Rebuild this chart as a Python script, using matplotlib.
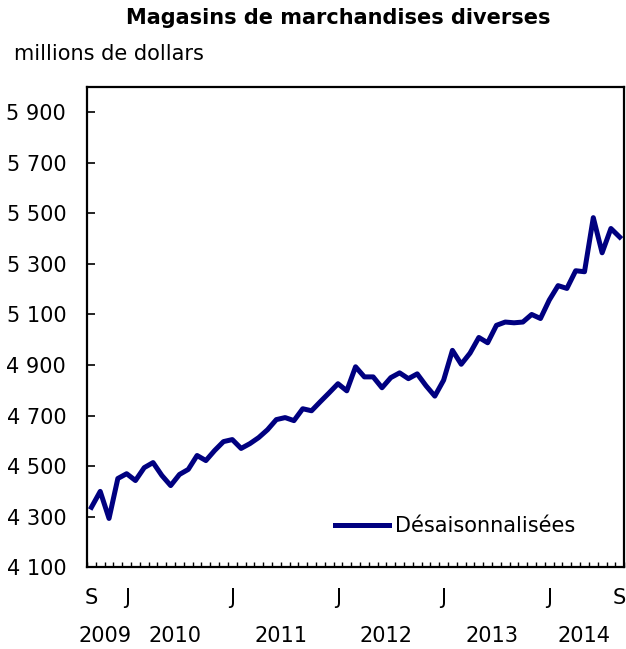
import numpy as np
import matplotlib.pyplot as plt
from matplotlib.ticker import FuncFormatter
import matplotlib.transforms as mtransforms

# Ventes mensuelles, sept. 2009 a sept. 2014 (millions de dollars)
values = [4337, 4400, 4293, 4451,
          4470, 4443, 4494, 4514, 4463, 4423, 4467, 4487, 4542, 4522, 4562, 4597,
          4605, 4570, 4589, 4613, 4644, 4684, 4692, 4680, 4727, 4719, 4755, 4790,
          4826, 4798, 4893, 4853, 4853, 4810, 4850, 4869, 4846, 4865, 4818, 4777,
          4840, 4958, 4903, 4947, 5009, 4988, 5057, 5070, 5067, 5070, 5100, 5084,
          5157, 5214, 5203, 5273, 5269, 5483, 5344, 5440, 5406]
month_labels = ['S', 'J', 'J', 'J', 'J', 'J', 'S']
month_label_pos = [0, 4, 16, 28, 40, 52, 60]
years = ['2009', '2010', '2011', '2012', '2013', '2014']
year_pos = [1.5, 9.5, 21.5, 33.5, 45.5, 56]
yticks = list(range(4100, 6000, 200))

x = np.arange(len(values))

fig = plt.figure(figsize=(6.26, 6.49), dpi=100)
ax = fig.add_axes([0.139, 0.126, 0.858, 0.74])

ax.plot(x, values, color='#000080', linewidth=3.6, label='Désaisonnalisées',
        solid_joinstyle='round')

ax.set_xlim(-0.5, 60.5)
ax.set_ylim(4100, 6000)
ax.set_yticks(yticks)
ax.yaxis.set_major_formatter(FuncFormatter(lambda v, p: '{:,}'.format(int(v)).replace(',', ' ')))
ax.tick_params(axis='y', direction='in', length=6, width=1.2, labelsize=15, pad=15)

# mois : etiquettes S / J, petits traits entre les mois
ax.set_xticks(month_label_pos)
ax.set_xticklabels(month_labels)
ax.set_xticks(np.arange(-0.5, 61, 1), minor=True)
ax.tick_params(axis='x', which='major', length=0, labelsize=15, pad=15)
ax.tick_params(axis='x', which='minor', direction='in', length=3.5, width=1.0)

for s in ax.spines.values():
    s.set_linewidth(1.6)

trans = mtransforms.blended_transform_factory(ax.transData, ax.transAxes)
for yr, p in zip(years, year_pos):
    ax.text(p, -0.143, yr, transform=trans, ha='center', va='center', fontsize=15)

fig.text(0.54, 0.973, 'Magasins de marchandises diverses', ha='center', va='center',
         fontsize=15, fontweight='bold')
fig.text(0.022, 0.917, 'millions de dollars', ha='left', va='center', fontsize=15)

ax.legend(loc='lower right', bbox_to_anchor=(0.944, 0.026), frameon=False, fontsize=15,
          handlelength=2.6, handletextpad=0.3)

plt.savefig('out.png', dpi=100)
